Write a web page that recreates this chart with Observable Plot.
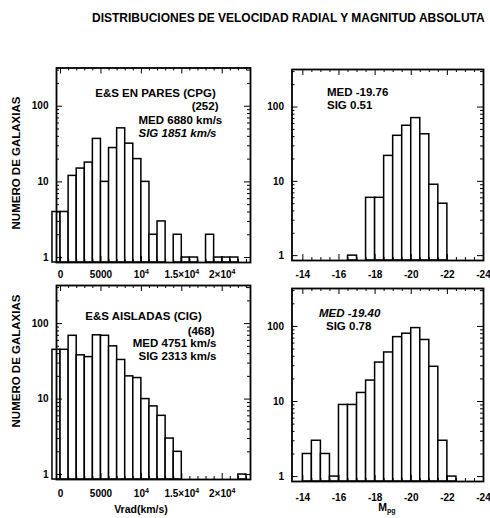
<!DOCTYPE html>
<html><head><meta charset="utf-8">
<script src="https://cdn.jsdelivr.net/npm/d3@7"></script>
<script src="https://cdn.jsdelivr.net/npm/@observablehq/plot@0.6"></script>
<style>
body{margin:0;background:#fff;}
#chart{position:relative;width:490px;height:518px;overflow:hidden;background:#fff;font-family:"Liberation Sans",Arial,Helvetica,sans-serif;color:#000;}
#chart .lab{position:absolute;white-space:nowrap;font-weight:bold;line-height:1;}
#chart svg{position:absolute;overflow:visible;}
</style></head><body><div id="chart"></div>
<script>
// ---------- data ----------
const chartTitle = "DISTRIBUCIONES DE VELOCIDAD RADIAL Y MAGNITUD ABSOLUTA";
const yTitle = "NUMERO DE GALAXIAS";

// radial velocity bins (start of each 1000 km/s bin)
const vradBinStart = [-1000,0,1000,2000,3000,4000,5000,6000,7000,8000,9000,10000,11000,12000,13000,14000,15000,16000,17000,18000,19000,20000,21000,22000];
const vradBinWidth = 1000;
const cpgVradCounts = [4,4,12,15,18,37,10,28,51,32,20,10,2,3,0,2,1,1,0,2,1,1,1,0];
const cigVradCounts = [45,45,69,38,36,70,69,50,33,20,19,10,8,6,3,2,0,0,0,0,0,0,0,1];

// absolute magnitude bins (start of each 0.5 mag bin, going brighter)
const magBinStart = [-14,-14.5,-15,-15.5,-16,-16.5,-17,-17.5,-18,-18.5,-19,-19.5,-20,-20.5,-21,-21.5,-22,-22.5,-23,-23.5];
const magBinWidth = -0.5;
const cpgMagCounts = [0,0,0,0,0,1,0,6,6,22,41,56,71,43,9,5,0,0,0,0];
const cigMagCounts = [2,3,2,1,9,9,13,19,33,45,72,80,95,66,29,3,1,0,0,0];

// tick labels
const vradTicks = [0,5000,10000,15000,20000];
const vradTickLabels = ["0","5000","10⁴","1.5×10⁴","2×10⁴"];
const magTicks = [-14,-16,-18,-20,-22,-24];
const magTickLabels = ["-14","-16","-18","-20","-22","-24"];
const countTicks = [1,10,100];
const countTickLabels = ["1","10","100"];

// annotations
const cpgVradNotes = ["E&S EN PARES (CPG)","(252)","MED 6880 km/s","SIG 1851 km/s"];
const cigVradNotes = ["E&S AISLADAS (CIG)","(468)","MED 4751 km/s","SIG 2313 km/s"];
const cpgMagNotes = ["MED -19.76","SIG 0.51"];
const cigMagNotes = ["MED -19.40","SIG 0.78"];

// ---------- drawing ----------
const FONT = '"Liberation Sans", Arial, Helvetica, sans-serif';
const yDomain = [0.86, 320];
const logMinor = [2,3,4,5,6,7,8,9,20,30,40,50,60,70,80,90,200,300];
const vradMinor = d3.range(0, 23001, 1000).filter(v => v % 5000 !== 0);
const magMinor = d3.range(-14.5, -24.01, -0.5).filter(v => v % 2 !== 0);

// inward ticks on all four sides of the frame (pixel insets only)
function edgeTicks(xMajor, xMinor, W, H) {
  const s = {stroke: "black", strokeWidth: 1};
  const xt = (data, len) => [
    Plot.ruleX(data, {x: d => d, insetTop: H - len, ...s}),
    Plot.ruleX(data, {x: d => d, insetBottom: H - len, ...s})
  ];
  const yt = (data, len) => [
    Plot.ruleY(data, {y: d => d, insetRight: W - len, ...s}),
    Plot.ruleY(data, {y: d => d, insetLeft: W - len, ...s})
  ];
  return [...xt(xMinor, 3), ...xt(xMajor, 6), ...yt(logMinor, 3), ...yt(countTicks, 6)];
}

function superscripts(svg) {
  const ns = "http://www.w3.org/2000/svg";
  svg.querySelectorAll("text").forEach(t => {
    if (t.children.length === 0 && t.textContent.includes("⁴")) {
      const base = t.textContent.replace("⁴", "");
      t.textContent = base;
      const ts = document.createElementNS(ns, "tspan");
      ts.setAttribute("dy", "-0.45em");
      ts.setAttribute("font-size", "7");
      ts.textContent = "4";
      t.appendChild(ts);
    }
  });
}

function panel(cfg) {
  const {starts, width, counts, xDomain, ticks, tickLabels, xMinor, box, frame, notes, xPad} = cfg;
  const data = starts.map((s, i) => ({x1: s, x2: s + width, n: counts[i]})).filter(d => d.n > 0);
  const W = frame.r - frame.l, H = frame.b - frame.t;
  const noteMarks = notes.map(n => Plot.text([n.text], {
    text: d => d, frameAnchor: n.anchor, textAnchor: n.textAnchor, dx: n.dx, dy: n.dy,
    fontSize: 11.5, fontWeight: "bold", fontStyle: n.italic ? "italic" : "normal", fill: "black"
  }));
  const svg = Plot.plot({
    width: box.w, height: box.h,
    marginLeft: frame.l - box.x, marginRight: box.x + box.w - frame.r,
    marginTop: frame.t - box.y, marginBottom: box.y + box.h - frame.b,
    x: {domain: xDomain},
    y: {type: "log", domain: yDomain},
    style: {fontFamily: FONT, fontSize: "10px", fontWeight: "bold", background: "transparent", color: "black"},
    marks: [
      Plot.rectY(data, {x1: "x1", x2: "x2", y1: yDomain[0], y2: "n", fill: "white", stroke: "black", strokeWidth: 1.5, inset: 0}),
      ...edgeTicks(ticks, xMinor, W, H),
      Plot.frame({stroke: "black", strokeWidth: 1.8}),
      Plot.axisX({ticks, tickFormat: d => tickLabels[ticks.indexOf(d)], tickSize: 0, tickPadding: xPad, label: null, fontSize: 10, fontWeight: "bold"}),
      Plot.axisY({ticks: countTicks, tickFormat: d => countTickLabels[countTicks.indexOf(d)], tickSize: 0, tickPadding: 8, label: null, fontSize: 10, fontWeight: "bold"}),
      ...noteMarks
    ]
  });
  superscripts(svg);
  svg.style.left = box.x + "px";
  svg.style.top = box.y + "px";
  return svg;
}

const chart = document.getElementById("chart");
function label(text, x, y, opts = {}) {
  const d = document.createElement("div");
  d.className = "lab";
  d.innerHTML = text;
  d.style.fontSize = (opts.size || 11.5) + "px";
  d.style.left = x + "px";
  d.style.top = y + "px";
  d.style.transform = opts.transform || "translate(-50%,-50%)";
  chart.appendChild(d);
}

chart.appendChild(panel({
  starts: vradBinStart, width: vradBinWidth, counts: cpgVradCounts,
  xDomain: [-500, 23500], ticks: vradTicks, tickLabels: vradTickLabels, xMinor: vradMinor, xPad: 8,
  box: {x: 0, y: 60, w: 255, h: 222}, frame: {l: 56, r: 250, t: 67.5, b: 262},
  notes: [
    {text: cpgVradNotes[0], anchor: "top", textAnchor: "middle", dx: 2, dy: 21},
    {text: cpgVradNotes[1], anchor: "top-right", textAnchor: "end", dx: -32, dy: 34},
    {text: cpgVradNotes[2], anchor: "top-left", textAnchor: "start", dx: 82, dy: 47.5},
    {text: cpgVradNotes[3], anchor: "top-left", textAnchor: "start", dx: 82, dy: 61, italic: true}
  ]
}));
chart.appendChild(panel({
  starts: magBinStart, width: magBinWidth, counts: cpgMagCounts,
  xDomain: [-13.4, -24], ticks: magTicks, tickLabels: magTickLabels, xMinor: magMinor, xPad: 10,
  box: {x: 255, y: 60, w: 235, h: 222}, frame: {l: 291.5, r: 483, t: 69, b: 260},
  notes: [
    {text: cpgMagNotes[0], anchor: "top-left", textAnchor: "start", dx: 35, dy: 18},
    {text: cpgMagNotes[1], anchor: "top-left", textAnchor: "start", dx: 35, dy: 31}
  ]
}));
chart.appendChild(panel({
  starts: vradBinStart, width: vradBinWidth, counts: cigVradCounts,
  xDomain: [-500, 23500], ticks: vradTicks, tickLabels: vradTickLabels, xMinor: vradMinor, xPad: 10,
  box: {x: 0, y: 282, w: 255, h: 236}, frame: {l: 56, r: 250, t: 285, b: 479},
  notes: [
    {text: cigVradNotes[0], anchor: "top", textAnchor: "middle", dx: -10, dy: 26},
    {text: cigVradNotes[1], anchor: "top-right", textAnchor: "end", dx: -36, dy: 41},
    {text: cigVradNotes[2], anchor: "top-right", textAnchor: "end", dx: -34, dy: 53},
    {text: cigVradNotes[3], anchor: "top-right", textAnchor: "end", dx: -34, dy: 66}
  ]
}));
chart.appendChild(panel({
  starts: magBinStart, width: magBinWidth, counts: cigMagCounts,
  xDomain: [-13.4, -24], ticks: magTicks, tickLabels: magTickLabels, xMinor: magMinor, xPad: 12,
  box: {x: 255, y: 282, w: 235, h: 236}, frame: {l: 291.5, r: 483, t: 288, b: 481},
  notes: [
    {text: cigMagNotes[0], anchor: "top-left", textAnchor: "start", dx: 27, dy: 20, italic: true},
    {text: cigMagNotes[1], anchor: "top-left", textAnchor: "start", dx: 34, dy: 33}
  ]
}));

label(chartTitle, 92, 12, {size: 12, transform: "none"});
label(yTitle, 17, 163, {transform: "translate(-50%,-50%) rotate(-90deg)"});
label(yTitle, 17, 361, {transform: "translate(-50%,-50%) rotate(-90deg)"});
label("Vrad(km/s)", 141, 509, {size: 10.5});
label("M<sub style=\"font-size:7px;vertical-align:-2px\">pg</sub>", 387, 508, {size: 10.5});
</script></body></html>
